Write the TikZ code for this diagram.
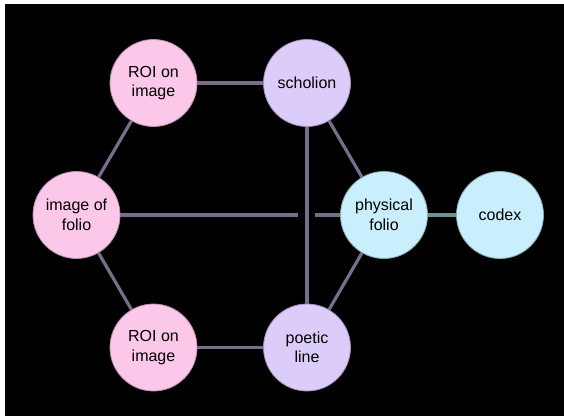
\documentclass[tikz,border=0pt]{standalone}
\usepackage{fontspec}
\setmainfont{Liberation Sans}
\definecolor{pinkfill}{HTML}{FCC8EA}
\definecolor{pinkdraw}{HTML}{B98FAE}
\definecolor{purplefill}{HTML}{DCCCF9}
\definecolor{purpledraw}{HTML}{9E8EB8}
\definecolor{cyanfill}{HTML}{C9EEFC}
\definecolor{cyandraw}{HTML}{8AAAB4}
\definecolor{edgecol}{HTML}{7A6D8C}
\definecolor{tealedge}{HTML}{6E9094}
\begin{document}
\begin{tikzpicture}[x=1pt,y=-1pt,
  base/.style={circle, minimum size=87pt, inner sep=0pt, line width=0.8pt, align=center,
    font=\fontsize{16}{19.5}\selectfont, text=black},
  pinknode/.style={base, fill=pinkfill, draw=pinkdraw},
  purplenode/.style={base, fill=purplefill, draw=purpledraw},
  cyannode/.style={base, fill=cyanfill, draw=cyandraw},
  conn/.style={draw=edgecol, line width=3.2pt},
  tealconn/.style={draw=tealedge, line width=3.2pt}]
\fill[white] (0,0) rectangle (564,416);
\fill[black] (5,4) rectangle (564,416);
\useasboundingbox (0,0) rectangle (564,416);
\node[pinknode] (roitop) at (153.5,83) {ROI on\\image};
\node[purplenode] (scholion) at (307,83) {scholion};
\node[pinknode] (imgfolio) at (76.5,215) {image of\\folio};
\node[cyannode] (phys) at (384,215) {physical\\folio};
\node[cyannode] (codex) at (500,215) {codex};
\node[pinknode] (roibot) at (153.5,347.5) {ROI on\\image};
\node[purplenode] (poetic) at (307,347.5) {poetic\\line};
\coordinate (gapL) at (298,215);
\coordinate (gapR) at (315,215);
\draw[conn] (roitop) -- (scholion);
\draw[conn] (roitop) -- (imgfolio);
\draw[conn] (imgfolio) -- (roibot);
\draw[conn] (roibot) -- (poetic);
\draw[conn] (scholion) -- (poetic);
\draw[conn] (scholion) -- (phys);
\draw[conn] (poetic) -- (phys);
\draw[conn] (imgfolio) -- (gapL);
\draw[conn] (gapR) -- (phys);
\draw[tealconn] (phys) -- (codex);
\end{tikzpicture}
\end{document}
